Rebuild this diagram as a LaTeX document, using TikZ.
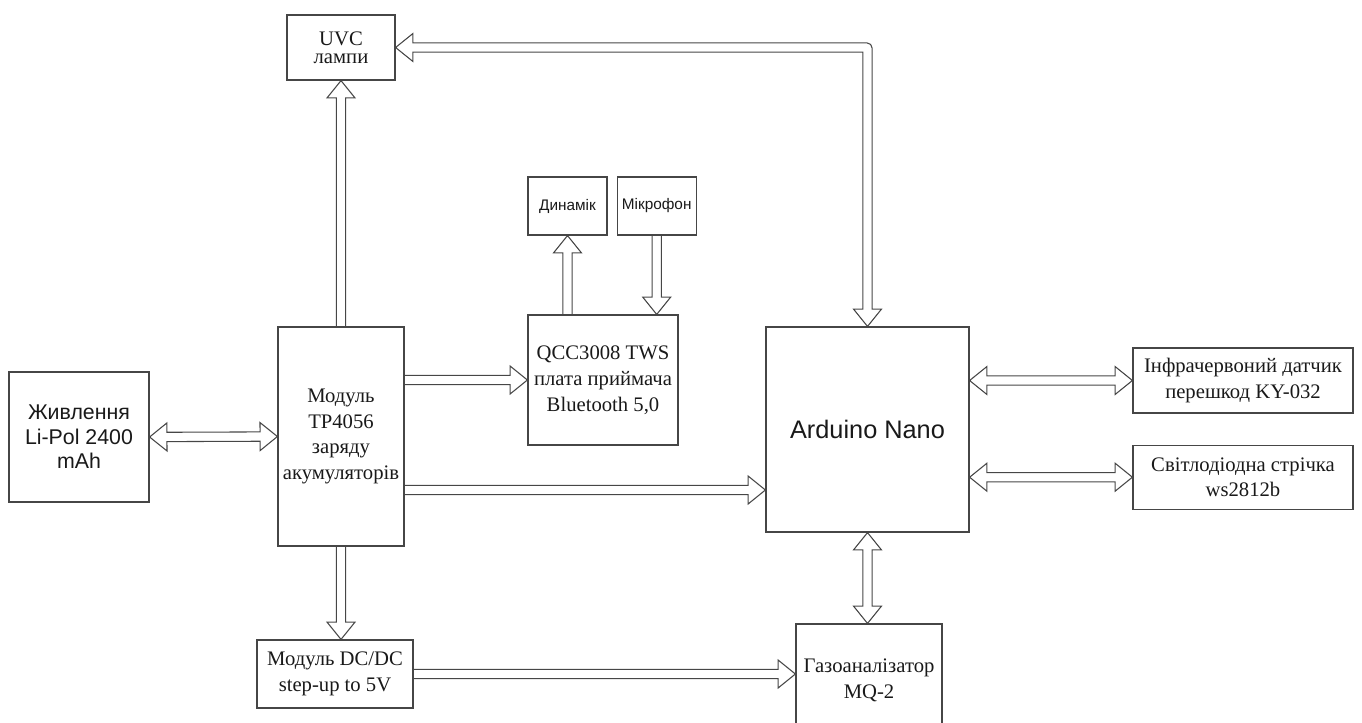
\documentclass[tikz,border=0pt]{standalone}
\usepackage{fontspec}
\setmainfont{Liberation Serif}
\newfontfamily\arialfont{Liberation Sans}
\usetikzlibrary{positioning, calc}
\definecolor{boxline}{RGB}{70,70,70}
\definecolor{textdark}{RGB}{25,25,25}

% sizes of the hollow block arrows
\newcommand{\shaftw}{3.5pt}
\newcommand{\headw}{10.5pt}
\newcommand{\headl}{13pt}
\tikzset{along/.style={shift={(\p1)}, rotate=\n1}}
% single-headed block arrow, head at #2
\newcommand{\flexto}[2]{%
  \draw[blockarrow] let \p1=(#1), \p2=(#2), \n1={atan2(\y2-\y1,\x2-\x1)}, \n2={veclen(\x2-\x1,\y2-\y1)} in
    ([along]0pt,\shaftw) -- ([along]\n2-\headl,\shaftw) -- ([along]\n2-\headl,\headw) -- (\p2)
    -- ([along]\n2-\headl,-\headw) -- ([along]\n2-\headl,-\shaftw) -- ([along]0pt,-\shaftw);}
% double-headed block arrow
\newcommand{\flexboth}[2]{%
  \draw[blockarrow] let \p1=(#1), \p2=(#2), \n1={atan2(\y2-\y1,\x2-\x1)}, \n2={veclen(\x2-\x1,\y2-\y1)} in
    (\p1) -- ([along]\headl,\headw) -- ([along]\headl,\shaftw) -- ([along]\n2-\headl,\shaftw)
    -- ([along]\n2-\headl,\headw) -- (\p2) -- ([along]\n2-\headl,-\headw) -- ([along]\n2-\headl,-\shaftw)
    -- ([along]\headl,-\shaftw) -- ([along]\headl,-\headw) -- cycle;}

\begin{document}
\begin{tikzpicture}[
    x=0.75pt, y=-0.75pt,
    block/.style={rectangle, draw=boxline, line width=0.9pt, align=center, inner sep=1pt,
      text=textdark, font=\fontsize{15.5}{19.3}\selectfont},
    sansblock/.style={block, font=\arialfont\fontsize{16}{18.4}\selectfont},
    smallblock/.style={block, minimum width=59.25pt, minimum height=43.5pt, font=\arialfont\fontsize{11.5}{13}\selectfont},
    blockarrow/.style={draw=boxline, line width=0.8pt}
  ]
  \clip (0,0) rectangle (1362,722);

  % Power part
  \node[sansblock, minimum width=105pt, minimum height=97.5pt] (jiv) at (79,437) {Живлення\\Li-Pol 2400\\mAh};
  \node[block, minimum width=94.5pt, minimum height=164.25pt] (mod) at (341,436.5) {Модуль\\TP4056\\заряду\\акумуляторів};
  \node[block, minimum width=81pt, minimum height=48.75pt, font=\fontsize{15.5}{13.5}\selectfont] (uvc) at (341,47.5) {UVC\\лампи};
  \node[block, minimum width=117pt, minimum height=51pt] (dcdc) at (335,674) {Модуль DC/DC\\step-up to 5V};

  % Audio part
  \node[block, minimum width=112.5pt, minimum height=97.5pt] (qcc) at (603,380) {QCC3008 TWS\\плата приймача\\Bluetooth 5,0};
  \node[smallblock] (din) at (567.5,206) {Динамік};
  \node[smallblock, right=6.75pt of din] (mic) {Мікрофон};

  % Controller and sensors
  \node[block, minimum width=152.25pt, minimum height=153.75pt, font=\arialfont\fontsize{19}{22}\selectfont] (ard) at (867.5,429.5) {Arduino Nano};
  \node[block, minimum width=165pt, minimum height=48.75pt] (ir) at (1243,380.5) {Інфрачервоний датчик\\перешкод KY-032};
  \node[block, minimum width=165pt, minimum height=48pt, below=23.25pt of ir] (led) {Світлодіодна стрічка\\ws2812b};
  \node[block, minimum width=109.5pt, minimum height=84pt] (gaz) at (869,680) {Газоаналізатор\\MQ-2};

  % Arrows
  \flexboth{jiv.east}{mod.west}
  \flexto{mod.north}{uvc.south}
  \flexto{mod.east |- qcc.west}{qcc.west}
  \flexto{mod.east |- 0,490}{ard.west |- 0,490}
  \flexto{mod.south}{mod.south |- dcdc.north}
  \flexto{qcc.north -| din.south}{din.south}
  \flexto{mic.south}{mic.south |- qcc.north}
  \flexboth{ard.east |- ir.west}{ir.west}
  \flexboth{ard.east |- led.west}{led.west}
  \flexboth{ard.south}{ard.south |- gaz.north}
  \flexto{dcdc.east}{gaz.west |- dcdc.east}

  % Arduino <-> UVC, bent arrow
  \draw[blockarrow] let \p1=(ard.north), \p2=(uvc.east) in
    (\p1) -- (\x1+\headw,\y1+\headl) -- (\x1+\shaftw,\y1+\headl)
    -- (\x1+\shaftw,\y2+\shaftw-4pt) arc[start angle=0, end angle=90, radius=4pt]
    -- (\x2+\headl,\y2+\shaftw) -- (\x2+\headl,\y2+\headw) -- (\p2)
    -- (\x2+\headl,\y2-\headw) -- (\x2+\headl,\y2-\shaftw)
    -- (\x1-\shaftw,\y2-\shaftw) -- (\x1-\shaftw,\y1+\headl) -- (\x1-\headw,\y1+\headl) -- cycle;
\end{tikzpicture}
\end{document}
